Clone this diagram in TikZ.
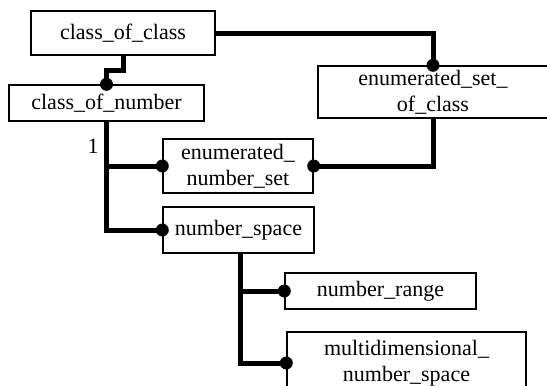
\documentclass[tikz,border=0pt]{standalone}
\usepackage{fontspec}
\setmainfont{Liberation Serif}
\begin{document}
\begin{tikzpicture}[x=1pt,y=-1pt,
  box/.style={draw, line width=1.4pt, inner sep=0pt, align=center,
    font=\fontsize{22}{26}\selectfont},
  conn/.style={line width=5pt},
  lbl/.style={inner sep=0pt, font=\fontsize{22}{26}\selectfont}]
\useasboundingbox (0,0) rectangle (547,386);
\clip (0,0) rectangle (547,386);
\fill[white] (0,0) rectangle (547,386);
\node[box, minimum width=184pt, minimum height=44pt] (coc) at (123,33) {class\_of\_class};
\node[box, minimum width=195pt, minimum height=36pt] (con) at (106.5,103) {class\_of\_number};
\node[box, minimum width=230pt, minimum height=52pt] (esoc) at (433,92) {enumerated\_set\_\\of\_class};
\node[box, minimum width=150pt, minimum height=54pt] (ens) at (238,166) {enumerated\_\\number\_set};
\node[box, minimum width=151pt, minimum height=46pt] (ns) at (238.5,230) {number\_space};
\node[box, minimum width=191pt, minimum height=36pt] (nr) at (380.5,291) {number\_range};
\node[box, minimum width=239pt, minimum height=62pt] (mns) at (406.5,363) {multidimensional\_\\number\_space};
\node[lbl] (one) at (93,146) {1};
\draw[conn] (coc.south) -- ++(0,15) -| (con.north);
\draw[conn] (coc.east) -| (esoc.north);
\draw[conn] (esoc.south) |- (ens.east);
\draw[conn] (con.south) |- (ens.west);
\draw[conn] (con.south) |- (ns.west);
\draw[conn] ([xshift=1.5pt]ns.south) |- (nr.west);
\draw[conn] ([xshift=1.5pt]ns.south) |- (mns.west);
\foreach \p in {con.north, esoc.north, ens.east, ens.west, ns.west, nr.west, mns.west}
  \fill (\p) circle[radius=6.5pt];
\end{tikzpicture}
\end{document}
